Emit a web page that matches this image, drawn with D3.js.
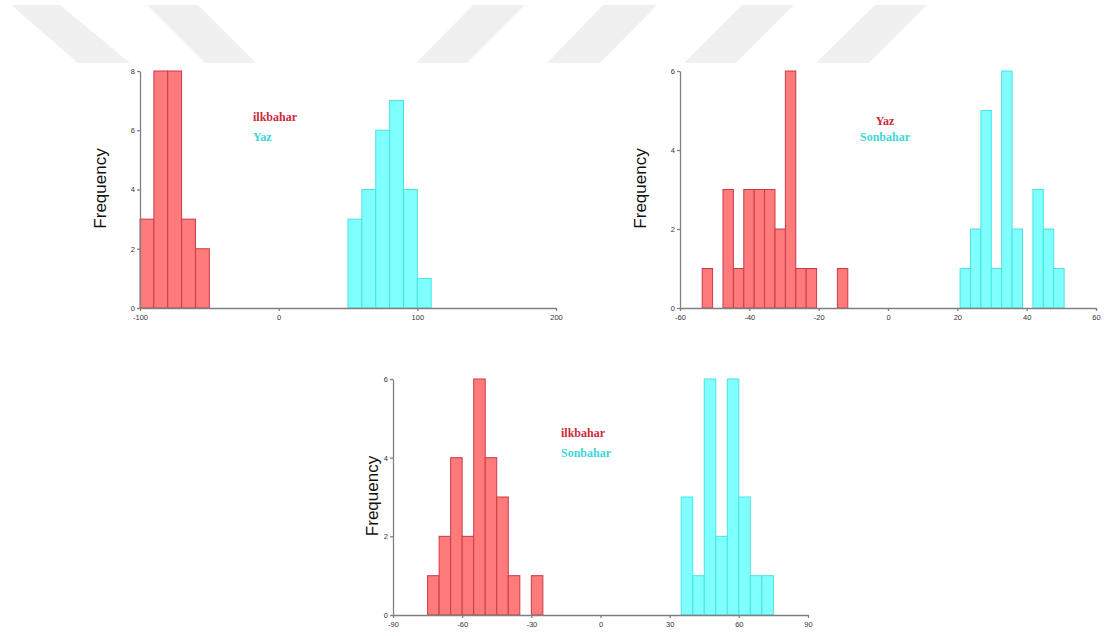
<!DOCTYPE html>
<html>
<head>
<meta charset="utf-8">
<script src="https://cdn.jsdelivr.net/npm/d3@7"></script>
<style>
  body { margin: 0; background: #fff; }
  .axis path, .axis line { stroke: #808080; stroke-width: 1.3; }
  .axis text { font-family: Arial, "Liberation Sans", sans-serif; font-size: 7.5px; fill: #333; }
</style>
</head>
<body>
<svg width="1105" height="636"></svg>
<script>
// panel 1: ilkbahar vs Yaz
const p1Labels = ["ilkbahar", "Yaz"];
const p1Width = 10;
const p1RedStart = -100;
const p1RedCounts = [3, 8, 8, 3, 2];
const p1CyanStart = 50;
const p1CyanCounts = [3, 4, 6, 7, 4, 1];
const p1XTicks = [-100, 0, 100, 200];
const p1YTicks = [0, 2, 4, 6, 8];

// panel 2: Yaz vs Sonbahar
const p2Labels = ["Yaz", "Sonbahar"];
const p2Width = 3;
const p2RedStart = -53.6;
const p2RedCounts = [1, 0, 3, 1, 3, 3, 3, 2, 6, 1, 1, 0, 0, 1];
const p2CyanStart = 20.8;
const p2CyanCounts = [1, 2, 5, 1, 6, 2, 0, 3, 2, 1];
const p2XTicks = [-60, -40, -20, 0, 20, 40, 60];
const p2YTicks = [0, 2, 4, 6];

// panel 3: ilkbahar vs Sonbahar
const p3Labels = ["ilkbahar", "Sonbahar"];
const p3Width = 5;
const p3RedStart = -75;
const p3RedCounts = [1, 2, 4, 2, 6, 4, 3, 1, 0, 1];
const p3CyanStart = 35;
const p3CyanCounts = [3, 1, 6, 2, 6, 3, 1, 1];
const p3XTicks = [-90, -60, -30, 0, 30, 60, 90];
const p3YTicks = [0, 2, 4, 6];

const svg = d3.select("svg");

// faint watermark stripes across the top
const stripes = [
  [[11, 5], [60, 5], [130, 63], [78, 63]],
  [[147, 5], [198, 5], [256, 63], [205, 63]],
  [[473, 5], [525, 5], [467, 63], [416, 63]],
  [[603, 5], [657, 5], [600, 63], [547, 63]],
  [[742, 5], [794, 5], [736, 63], [684, 63]],
  [[875, 5], [927, 5], [869, 63], [816, 63]]
];
svg.selectAll("polygon.wm")
  .data(stripes)
  .enter()
  .append("polygon")
  .attr("class", "wm")
  .attr("points", d => d.map(p => p.join(",")).join(" "))
  .attr("fill", "#f0f0f0")

const panels = [
  { labels: p1Labels, w: p1Width, red: [p1RedStart, p1RedCounts], cyan: [p1CyanStart, p1CyanCounts],
    xt: p1XTicks, yt: p1YTicks, x0: 140, x1: 556, top: 71, base: 308, fx: 100,
    lx: 253, ly: 121, lgap: 19.5, anchor: "start" },
  { labels: p2Labels, w: p2Width, red: [p2RedStart, p2RedCounts], cyan: [p2CyanStart, p2CyanCounts],
    xt: p2XTicks, yt: p2YTicks, x0: 680, x1: 1096, top: 71, base: 308, fx: 640,
    lx: 885, ly: 125, lgap: 16, anchor: "middle" },
  { labels: p3Labels, w: p3Width, red: [p3RedStart, p3RedCounts], cyan: [p3CyanStart, p3CyanCounts],
    xt: p3XTicks, yt: p3YTicks, x0: 393, x1: 808, top: 379, base: 615, fx: 372,
    lx: 561, ly: 437, lgap: 19.5, anchor: "start" }
];

const redFill = "#ff7b7b", redStroke = "#cc3a48";
const cyanFill = "#80ffff", cyanStroke = "#48e4e4";
const textRed = "#cc2a3c", textCyan = "#3fd6d6";

// plain hyphen minus and integers, like the original
const fmt = d => String(d);

panels.forEach(p => {
  const x = d3.scaleLinear()
    .domain([p.xt[0], p.xt[p.xt.length - 1]])
    .range([p.x0, p.x1]);
  const y = d3.scaleLinear()
    .domain([0, p.yt[p.yt.length - 1]])
    .range([p.base, p.top]);

  const g = svg.append("g");

  // white panel background
  g.append("rect")
    .attr("x", p.x0 - 62)
    .attr("y", p.top - 8)
    .attr("width", p.x1 - p.x0 + 70)
    .attr("height", p.base - p.top + 30)
    .attr("fill", "#fff")

  const series = [
    { start: p.red[0], counts: p.red[1], fill: redFill, stroke: redStroke },
    { start: p.cyan[0], counts: p.cyan[1], fill: cyanFill, stroke: cyanStroke }
  ];

  series.forEach(s => {
    const bins = s.counts.map((c, i) => ({ lo: s.start + i * p.w, hi: s.start + (i + 1) * p.w, n: c }))
      .filter(b => b.n > 0);
    g.selectAll(null)
      .data(bins)
      .enter()
      .append("rect")
      .attr("x", d => x(d.lo))
      .attr("y", d => y(d.n))
      .attr("width", d => x(d.hi) - x(d.lo))
      .attr("height", d => y(0) - y(d.n))
      .attr("fill", s.fill)
      .attr("stroke", s.stroke)
      .attr("stroke-width", 1)
  })

  g.append("g")
    .attr("class", "axis")
    .attr("transform", `translate(0, ${p.base})`)
    .call(d3.axisBottom(x).tickValues(p.xt).tickFormat(fmt).tickSize(3).tickSizeOuter(0).tickPadding(4));

  g.append("g")
    .attr("class", "axis")
    .attr("transform", `translate(${p.x0}, 0)`)
    .call(d3.axisLeft(y).tickValues(p.yt).tickFormat(fmt).tickSize(3).tickSizeOuter(0).tickPadding(2));

  //y axis title
  g.append("text")
    .attr("transform", `translate(${p.fx + 6}, ${(p.top + p.base) / 2 - 1}) rotate(-90)`)
    .attr("text-anchor", "middle")
    .style("font-family", "Arial, 'Liberation Sans', sans-serif")
    .style("font-size", "17px")
    .attr("fill", "#111")
    .text("Frequency")

  // legend
  p.labels.forEach((lab, i) => {
    g.append("text")
      .attr("x", p.lx)
      .attr("y", p.ly + i * p.lgap)
      .attr("text-anchor", p.anchor)
      .style("font-family", "'Liberation Serif', 'Times New Roman', serif")
      .style("font-weight", "bold")
      .style("font-size", "12px")
      .attr("fill", i === 0 ? textRed : textCyan)
      .text(lab)
  })
})
</script>
</body>
</html>
